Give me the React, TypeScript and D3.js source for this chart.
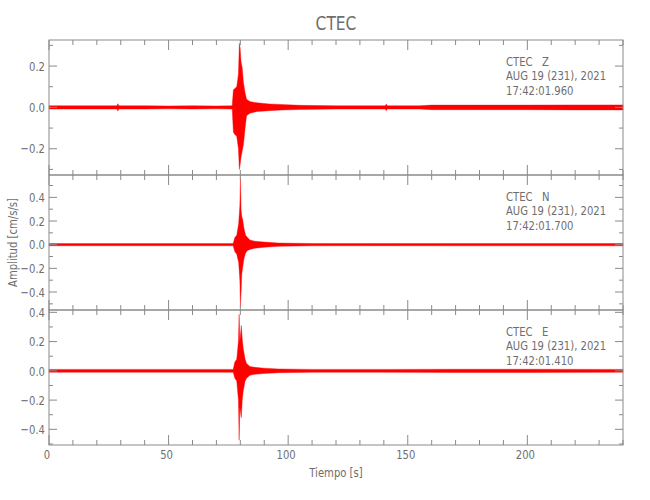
import React from "react";
import * as d3 from "d3";

// ---- data ----
const TITLE = "CTEC";
const X_LABEL = "Tiempo [s]";
const Y_LABEL = "Amplitud [cm/s/s]";
const X_DOMAIN = [0, 240];
const X_MAJOR_TICKS = [0, 50, 100, 150, 200];

const COMPONENTS = ["Z", "N", "E"];
const START_TIMES = ["17:42:01.960", "17:42:01.700", "17:42:01.410"];
const DATE_LABEL = "AUG 19 (231), 2021";
const STATION = "CTEC";

const Y_MIN = [-0.327, -0.552, -0.507];
const Y_MAX = [0.326, 0.589, 0.416];

// envelope of each trace: time (s), upper and lower amplitude (cm/s/s)
const Z_T = [0, 10, 20, 28.4, 28.8, 29.2, 40, 50, 60, 70, 76.6, 77.1, 77.6, 78.5, 79.2, 79.6, 79.9, 80.3, 80.8, 81.3, 82, 82.6, 84, 87, 92, 97, 105, 120, 140.6, 141, 141.4, 155, 160, 180, 200, 220, 240];
const Z_TOP = [0.008, 0.008, 0.008, 0.008, 0.018, 0.008, 0.008, 0.007, 0.008, 0.007, 0.008, 0.085, 0.09, 0.10, 0.16, 0.31, 0.29, 0.22, 0.19, 0.12, 0.07, 0.04, 0.028, 0.022, 0.017, 0.014, 0.010, 0.008, 0.008, 0.016, 0.008, 0.008, 0.011, 0.011, 0.011, 0.012, 0.012];
const Z_BOT = [-0.008, -0.008, -0.008, -0.008, -0.018, -0.008, -0.008, -0.007, -0.008, -0.007, -0.008, -0.12, -0.13, -0.14, -0.20, -0.30, -0.28, -0.24, -0.21, -0.18, -0.10, -0.04, -0.028, -0.02, -0.016, -0.013, -0.010, -0.008, -0.008, -0.016, -0.008, -0.008, -0.011, -0.011, -0.011, -0.012, -0.012];

const N_T = [0, 20, 40, 60, 77, 77.7, 78.5, 79.3, 79.8, 80.05, 80.3, 80.6, 81, 81.5, 82.2, 83, 84, 86, 90, 96, 110, 140, 170, 200, 240];
const N_TOP = [0.009, 0.009, 0.009, 0.009, 0.009, 0.06, 0.08, 0.18, 0.33, 0.56, 0.30, 0.24, 0.21, 0.14, 0.08, 0.06, 0.04, 0.03, 0.022, 0.014, 0.010, 0.009, 0.010, 0.010, 0.010];
const N_BOT = [-0.009, -0.009, -0.009, -0.009, -0.009, -0.06, -0.08, -0.15, -0.30, -0.52, -0.41, -0.25, -0.19, -0.12, -0.07, -0.05, -0.04, -0.03, -0.022, -0.014, -0.010, -0.009, -0.010, -0.010, -0.010];

const E_T = [0, 20, 40, 60, 77, 77.7, 78.5, 79.2, 79.5, 79.8, 80.4, 80.8, 81.2, 82, 82.6, 84, 86, 90, 96, 110, 140, 170, 200, 240];
const E_TOP = [0.010, 0.010, 0.010, 0.010, 0.010, 0.06, 0.08, 0.20, 0.386, 0.20, 0.31, 0.22, 0.155, 0.08, 0.05, 0.03, 0.024, 0.018, 0.013, 0.010, 0.010, 0.011, 0.011, 0.010];
const E_BOT = [-0.010, -0.010, -0.010, -0.010, -0.010, -0.05, -0.07, -0.20, -0.474, -0.25, -0.32, -0.20, -0.14, -0.07, -0.05, -0.03, -0.024, -0.018, -0.013, -0.010, -0.010, -0.011, -0.011, -0.010];

const TRACES = [
  { t: Z_T, top: Z_TOP, bot: Z_BOT },
  { t: N_T, top: N_TOP, bot: N_BOT },
  { t: E_T, top: E_TOP, bot: E_BOT },
];

// ---- layout ----
const W = 650;
const H = 500;
const LEFT = 49;
const RIGHT = 623;
const TOP = 40;
const PANEL_H = 135;
const AXIS = "#8a8a8a";
const TEXT = "#6e6e6e";
const FONT = "'DejaVu Sans Condensed', 'DejaVu Sans', sans-serif";
const SX = 0.86;

function NText({ x, y, anchor = "start", size = 13, rotate = 0, children, dy }: any) {
  return (
    <text
      transform={`translate(${x},${y}) rotate(${rotate}) scale(${SX},1)`}
      textAnchor={anchor}
      fontSize={size}
      fill={TEXT}
      dy={dy}
      style={{ whiteSpace: "pre" }}
    >
      {children}
    </text>
  );
}

export default function App() {
  const x = d3.scaleLinear().domain(X_DOMAIN).range([LEFT, RIGHT]);
  const xMinor = d3.range(X_DOMAIN[0], X_DOMAIN[1] + 0.001, 10);
  const fmt = d3.format(".1f");

  return (
    <svg width={W} height={H} style={{ position: "absolute", left: 0, top: 0, background: "#fff" }} fontFamily={FONT}>
      <NText x={(LEFT + RIGHT) / 2} y={30} anchor="middle" size={20}>{TITLE}</NText>
      {TRACES.map((tr, i) => {
        const y0 = TOP + i * PANEL_H;
        const y1 = y0 + PANEL_H;
        const y = d3.scaleLinear().domain([Y_MIN[i], Y_MAX[i]]).range([y1, y0]);
        const pts = tr.t.map((t, k) => ({ t, a: tr.top[k], b: tr.bot[k] }));
        const area = d3.area<any>().x((d) => x(d.t)).y0((d) => y(d.b)).y1((d) => y(d.a));
        const yMajor = d3.range(-0.4, 0.4001, 0.2).map((v) => +v.toFixed(1)).filter((v) => v >= Y_MIN[i] - 1e-9 && v <= Y_MAX[i] + 1e-9);
        const yMinor = d3.range(-0.5, 0.5001, 0.2).map((v) => +v.toFixed(1)).filter((v) => v >= Y_MIN[i] && v <= Y_MAX[i]);
        return (
          <g key={i}>
            <path d={area(pts) || ""} fill="#ff0000" stroke="#ff0000" strokeWidth={0.4} />
            <rect x={LEFT} y={y0} width={RIGHT - LEFT} height={PANEL_H} fill="none" stroke={AXIS} strokeWidth={1} />
            {xMinor.map((v) => {
              const major = v % 50 === 0;
              const len = major ? 10 : 5;
              return (
                <g key={v}>
                  <line x1={x(v)} x2={x(v)} y1={y0} y2={y0 + len} stroke={AXIS} />
                  <line x1={x(v)} x2={x(v)} y1={y1} y2={y1 - len} stroke={AXIS} />
                </g>
              );
            })}
            {yMajor.map((v) => (
              <g key={"M" + v}>
                <line x1={LEFT} x2={LEFT + 8} y1={y(v)} y2={y(v)} stroke={AXIS} />
                <line x1={RIGHT} x2={RIGHT - 8} y1={y(v)} y2={y(v)} stroke={AXIS} />
                <NText x={LEFT - 4} y={y(v)} dy="0.36em" anchor="end" size={13}>{fmt(v)}</NText>
              </g>
            ))}
            {yMinor.map((v) => (
              <g key={"m" + v}>
                <line x1={LEFT} x2={LEFT + 4} y1={y(v)} y2={y(v)} stroke={AXIS} />
                <line x1={RIGHT} x2={RIGHT - 4} y1={y(v)} y2={y(v)} stroke={AXIS} />
              </g>
            ))}
            <NText x={506} y={y0 + 26} size={13}>
              <tspan x={0}>{`${STATION}   ${COMPONENTS[i]}`}</tspan>
              <tspan x={0} dy={14.5}>{DATE_LABEL}</tspan>
              <tspan x={0} dy={14.5}>{START_TIMES[i]}</tspan>
            </NText>
          </g>
        );
      })}
      {X_MAJOR_TICKS.map((v) => (
        <NText key={v} x={x(v) - 2} y={TOP + 3 * PANEL_H + 14} anchor="middle" size={13}>{String(v)}</NText>
      ))}
      <NText x={(LEFT + RIGHT) / 2} y={477} anchor="middle" size={13}>{X_LABEL}</NText>
      <NText x={17} y={TOP + 1.5 * PANEL_H} anchor="middle" size={13} rotate={-90}>{Y_LABEL}</NText>
    </svg>
  );
}
